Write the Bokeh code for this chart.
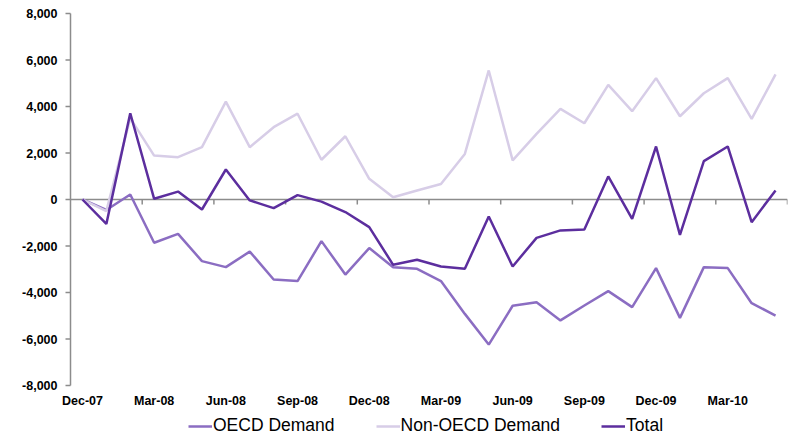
from bokeh.plotting import figure
from bokeh.models import ColumnDataSource, Legend, LegendItem, Range1d
from bokeh.embed import file_html
from bokeh.resources import INLINE
from bokeh.core.properties import value
import numpy as np

months = ["Dec-07", "Jan-08", "Feb-08", "Mar-08", "Apr-08", "May-08", "Jun-08", "Jul-08",
          "Aug-08", "Sep-08", "Oct-08", "Nov-08", "Dec-08", "Jan-09", "Feb-09", "Mar-09",
          "Apr-09", "May-09", "Jun-09", "Jul-09", "Aug-09", "Sep-09", "Oct-09", "Nov-09",
          "Dec-09", "Jan-10", "Feb-10", "Mar-10", "Apr-10", "May-10"]

oecd = [0, -450, 215, -1860, -1480, -2650, -2910, -2240, -3440, -3510, -1790, -3230,
        -2090, -2910, -2980, -3510, -4920, -6240, -4570, -4420, -5200, -4560, -3940,
        -4630, -2950, -5090, -2910, -2950, -4460, -4990]

non_oecd = [0, -500, 3500, 1890, 1820, 2250, 4210, 2250, 3110, 3690, 1710, 2720, 890,
            100, 390, 670, 1960, 5550, 1680, 2820, 3900, 3280, 4930, 3800, 5220, 3580,
            4570, 5220, 3470, 5380]

total = [0, -1050, 3710, 30, 340, -430, 1290, -40, -370, 190, -90, -540, -1190, -2810,
         -2590, -2880, -2980, -730, -2880, -1650, -1330, -1290, 990, -830, 2280, -1520,
         1650, 2280, -975, 390]

tick_labels = ["Dec-07", "Mar-08", "Jun-08", "Sep-08", "Dec-08", "Mar-09", "Jun-09",
               "Sep-09", "Dec-09", "Mar-10"]

y_ticks = [-8000, -6000, -4000, -2000, 0, 2000, 4000, 6000, 8000]

y_min, y_max = y_ticks[0], y_ticks[-1]
n = len(months)
axis_px = 372          # pixel height of the labelled value span
below_px = 51          # room under the value axis for labels and legend
above_px = 10          # room above the value axis for its top label
plot_w = 717           # pixel width of the category span
left_px = 50           # room left of the value axis for its labels
per_py = (y_max - y_min) / axis_px
per_px = n / plot_w
x0 = -0.5

x = list(range(n))
src = ColumnDataSource(dict(x=x, oecd=oecd, non=non_oecd, total=total))

p = figure(frame_width=plot_w + left_px, frame_height=axis_px + below_px + above_px,
           output_backend="svg", toolbar_location=None,
           x_range=Range1d(x0 - left_px * per_px, n - 0.5),
           y_range=Range1d(y_min - below_px * per_py, y_max + above_px * per_py),
           x_axis_location=None, y_axis_location=None,
           min_border_left=20, min_border_top=13 - above_px, min_border_right=6,
           min_border_bottom=0)
p.outline_line_color = None
p.grid.grid_line_color = None
p.background_fill_color = "white"

axis_col = "#8c8c8c"
# value axis line, ticks and labels
p.segment(x0=[x0], x1=[x0], y0=[y_min], y1=[y_max], line_color=axis_col, line_width=1.5)
p.segment(x0=[x0 - 5 * per_px] * len(y_ticks), x1=[x0] * len(y_ticks), y0=y_ticks, y1=y_ticks,
          line_color=axis_col, line_width=1.5)
p.text(x=[x0] * len(y_ticks), y=y_ticks, text=[f"{v:,}" for v in y_ticks], x_offset=-13,
       text_align="right", text_baseline="middle", text_color="black",
       text_font=value("Liberation Sans"), text_font_style="bold", text_font_size="12.5px")

# zero line with category tick marks
p.segment(x0=[x0], x1=[n - 0.5], y0=[0], y1=[0], line_color=axis_col, line_width=1.5)
tx = np.arange(2.5, n, 3)
p.segment(x0=tx, x1=tx, y0=0, y1=-5 * per_py, line_color=axis_col, line_width=1.5)

c_oecd = "#8b6dc2"
c_non = "#d7cde7"
c_tot = "#5c2e9e"
r1 = p.line("x", "oecd", source=src, line_color=c_oecd, line_width=2.5)
r2 = p.line("x", "non", source=src, line_color=c_non, line_width=2.5)
r3 = p.line("x", "total", source=src, line_color=c_tot, line_width=2.5)

# category labels
lab_x = list(range(0, n, 3))
p.text(x=lab_x, y=[y_min] * len(lab_x), text=tick_labels, y_offset=15,
       text_align="center", text_baseline="middle", text_color="black",
       text_font=value("Liberation Sans"), text_font_style="bold", text_font_size="12.5px")

legend = Legend(items=[LegendItem(label="OECD Demand", renderers=[r1]),
                       LegendItem(label="Non-OECD Demand", renderers=[r2]),
                       LegendItem(label="Total", renderers=[r3])],
                orientation="horizontal", location=(168, 0))
legend.label_text_font = "Liberation Sans"
legend.label_text_font_size = "17.5px"
legend.label_text_color = "black"
legend.glyph_width = 24
legend.label_standoff = 1
legend.spacing = 41
legend.padding = 0
legend.margin = 0
legend.border_line_color = None
legend.background_fill_alpha = 0
legend.label_height = 18
legend.glyph_height = 18
p.add_layout(legend)

open("out.html", "w").write(file_html(p, INLINE))
